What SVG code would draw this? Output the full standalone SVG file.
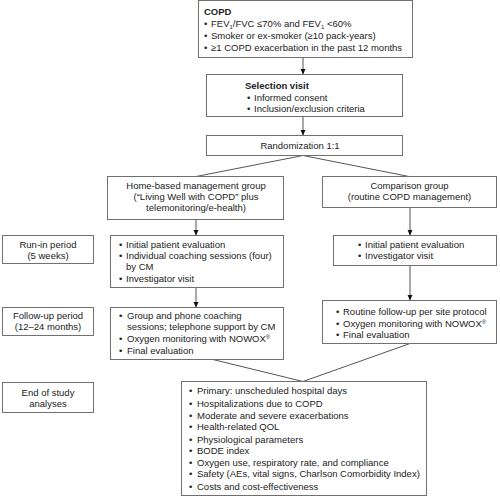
<svg xmlns="http://www.w3.org/2000/svg" width="500" height="497" viewBox="0 0 500 497">
<defs>
<marker id="ah" markerWidth="6" markerHeight="6" refX="5.5" refY="3" orient="auto" markerUnits="userSpaceOnUse">
<path d="M0,0.3 L6,3 L0,5.7 z" fill="#111"/>
</marker>
<style>
.box{fill:#fff;stroke:#707070;stroke-width:1}
.t{font-family:"Liberation Sans",Arial,sans-serif;font-size:9.5px;fill:#222}
.b{font-weight:bold}
.c{text-anchor:middle}
.ln{stroke:#555;stroke-width:1;fill:none}
.ar{stroke:#555;stroke-width:1;fill:none;marker-end:url(#ah)}
</style>
</defs>
<rect width="500" height="497" fill="#fff"/>
<g id="connectors">
<line class="ar" x1="303" y1="58" x2="303" y2="74"/>
<line class="ar" x1="303" y1="117" x2="303" y2="135"/>
<line class="ln" x1="303" y1="155.5" x2="196" y2="176.5"/>
<line class="ln" x1="303" y1="155.5" x2="409" y2="176.5"/>
<line class="ar" x1="196" y1="219.5" x2="196" y2="235"/>
<line class="ar" x1="410" y1="207.5" x2="410" y2="235"/>
<line class="ar" x1="196" y1="287.5" x2="196" y2="307"/>
<line class="ar" x1="410" y1="265.5" x2="410" y2="300"/>
<line class="ln" x1="213" y1="359.5" x2="303" y2="381.5"/>
<line class="ln" x1="410" y1="343.5" x2="303" y2="381.5"/>
</g>
<g id="copd">
<rect class="box" x="198.5" y="0.5" width="214" height="57"/>
<text class="t b" x="204" y="15">COPD</text>
<text class="t" x="204" y="27">•</text><text class="t" x="211" y="27">FEV<tspan font-size="6" dy="2">1</tspan><tspan dy="-2">/FVC ≤70% and FEV</tspan><tspan font-size="6" dy="2">1</tspan><tspan dy="-2"> &lt;60%</tspan></text>
<text class="t" x="204" y="39">•</text><text class="t" x="211" y="39">Smoker or ex-smoker (≥10 pack-years)</text>
<text class="t" x="204" y="50.5">•</text><text class="t" x="211" y="50.5">≥1 COPD exacerbation in the past 12 months</text>
</g>
<g id="selection">
<rect class="box" x="206.5" y="74.5" width="196" height="42"/>
<text class="t b" x="245" y="89">Selection visit</text>
<text class="t" x="247" y="101">•</text><text class="t" x="254" y="101">Informed consent</text>
<text class="t" x="247" y="112">•</text><text class="t" x="254" y="112">Inclusion/exclusion criteria</text>
</g>
<g id="randomization">
<rect class="box" x="206.5" y="135.5" width="196" height="20"/>
<text class="t c" x="300" y="149">Randomization 1:1</text>
</g>
<g id="home">
<rect class="box" x="107.5" y="176.5" width="176" height="43"/>
<text class="t c" x="196" y="188.5">Home-based management group</text>
<text class="t c" x="196" y="199.5">(“Living Well with COPD” plus</text>
<text class="t c" x="196" y="210.5">telemonitoring/e-health)</text>
</g>
<g id="comparison">
<rect class="box" x="322.5" y="176.5" width="174" height="31"/>
<text class="t c" x="409.5" y="188.5">Comparison group</text>
<text class="t c" x="409.5" y="199.5">(routine COPD management)</text>
</g>
<g id="runin-label">
<rect class="box" x="2.5" y="235.5" width="91" height="28"/>
<text class="t c" x="48" y="247.5">Run-in period</text>
<text class="t c" x="48" y="258.5">(5 weeks)</text>
</g>
<g id="runin-home">
<rect class="box" x="110.5" y="235.5" width="173" height="52"/>
<text class="t" x="119" y="247.5">•</text><text class="t" x="126" y="247.5">Initial patient evaluation</text>
<text class="t" x="119" y="258.5">•</text><text class="t" x="126" y="258.5">Individual coaching sessions (four)</text>
<text class="t" x="126" y="270">by CM</text>
<text class="t" x="119" y="281.5">•</text><text class="t" x="126" y="281.5">Investigator visit</text>
</g>
<g id="runin-comp">
<rect class="box" x="333.5" y="235.5" width="163" height="30"/>
<text class="t" x="358" y="247.5">•</text><text class="t" x="365" y="247.5">Initial patient evaluation</text>
<text class="t" x="358" y="258.5">•</text><text class="t" x="365" y="258.5">Investigator visit</text>
</g>
<g id="followup-label">
<rect class="box" x="2.5" y="307.5" width="91" height="28"/>
<text class="t c" x="48" y="318.5">Follow-up period</text>
<text class="t c" x="48" y="330">(12–24 months)</text>
</g>
<g id="followup-home">
<rect class="box" x="110.5" y="307.5" width="173" height="52"/>
<text class="t" x="119" y="318.5">•</text><text class="t" x="127" y="318.5">Group and phone coaching</text>
<text class="t" x="127" y="330">sessions; telephone support by CM</text>
<text class="t" x="119" y="341.5">•</text><text class="t" x="127" y="341.5">Oxygen monitoring with NOWOX<tspan font-size="6" dy="-3">®</tspan></text>
<text class="t" x="119" y="353.5">•</text><text class="t" x="127" y="353.5">Final evaluation</text>
</g>
<g id="followup-comp">
<rect class="box" x="322.5" y="300.5" width="174" height="43"/>
<text class="t" x="336" y="315">•</text><text class="t" x="343" y="315">Routine follow-up per site protocol</text>
<text class="t" x="336" y="326.5">•</text><text class="t" x="343" y="326.5">Oxygen monitoring with NOWOX<tspan font-size="6" dy="-3">®</tspan></text>
<text class="t" x="336" y="338">•</text><text class="t" x="343" y="338">Final evaluation</text>
</g>
<g id="end-label">
<rect class="box" x="2.5" y="382.5" width="91" height="30"/>
<text class="t c" x="48" y="395.5">End of study</text>
<text class="t c" x="48" y="406.5">analyses</text>
</g>
<g id="end-analyses">
<rect class="box" x="181.5" y="381.5" width="245" height="114"/>
<text class="t" x="189" y="394">•</text><text class="t" x="197" y="394">Primary: unscheduled hospital days</text>
<text class="t" x="189" y="407">•</text><text class="t" x="197" y="407">Hospitalizations due to COPD</text>
<text class="t" x="189" y="419">•</text><text class="t" x="197" y="419">Moderate and severe exacerbations</text>
<text class="t" x="189" y="430">•</text><text class="t" x="197" y="430">Health-related QOL</text>
<text class="t" x="189" y="442.5">•</text><text class="t" x="197" y="442.5">Physiological parameters</text>
<text class="t" x="189" y="454">•</text><text class="t" x="197" y="454">BODE index</text>
<text class="t" x="189" y="466">•</text><text class="t" x="197" y="466">Oxygen use, respiratory rate, and compliance</text>
<text class="t" x="189" y="477">•</text><text class="t" x="197" y="477">Safety (AEs, vital signs, Charlson Comorbidity Index)</text>
<text class="t" x="189" y="490">•</text><text class="t" x="197" y="490">Costs and cost-effectiveness</text>
</g>
</svg>
